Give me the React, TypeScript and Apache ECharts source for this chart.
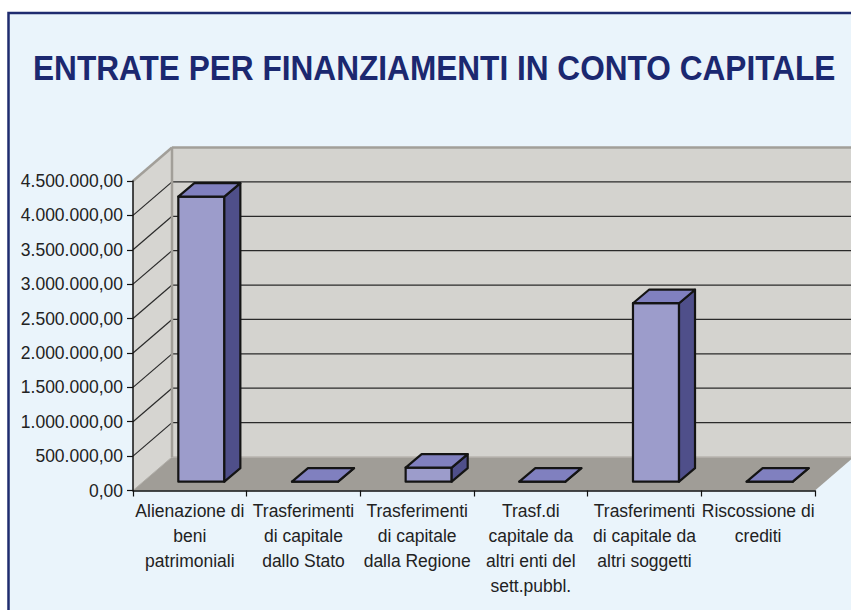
import React, { useEffect, useRef } from "react";
import * as echarts from "echarts";

const categories: string[] = [
  "Alienazione di\nbeni\npatrimoniali",
  "Trasferimenti\ndi capitale\ndallo Stato",
  "Trasferimenti\ndi capitale\ndalla Regione",
  "Trasf.di\ncapitale da\naltri enti del\nsett.pubbl.",
  "Trasferimenti\ndi capitale da\naltri soggetti",
  "Riscossione di\ncrediti",
];
const values: number[] = [4145000, 0, 205000, 0, 2595000, 0];
const Y_MIN = 0;
const Y_MAX = 4500000;
const Y_INTERVAL = 500000;
const TITLE = "ENTRATE PER FINANZIAMENTI IN CONTO CAPITALE";

// 3D geometry (pixels)
const DX = 39;
const DY = -33.5;
const FX = 11.5;
const FY = -8.8;
const BX = 16;
const BY = -13.5;
const FONT = "'Liberation Sans', Arial, Helvetica, sans-serif";

const fmt = (v: number) =>
  Math.round(v).toString().replace(/\B(?=(\d{3})+(?!\d))/g, ".") + ",00";

export default function App() {
  const ref = useRef<HTMLDivElement>(null);
  useEffect(() => {
    if (!ref.current) return;
    const chart = echarts.init(ref.current, undefined, { renderer: "svg" });
    const nCat = categories.length;
    const option: any = {
      animation: false,
      backgroundColor: "#ffffff",
      graphic: [
        {
          type: "rect",
          z: -10,
          shape: { x: 8.5, y: 13, width: 900, height: 700 },
          style: { fill: "#EAF4FB", stroke: "#1F2C6F", lineWidth: 2.5 },
        },
        {
          type: "text",
          z: 10,
          x: 33,
          y: 68,
          scaleX: 1.02,
          scaleY: 1.12,
          style: {
            text: TITLE,
            font: "bold 31px " + FONT,
            fill: "#1B2870",
            textAlign: "left",
            textVerticalAlign: "middle",
          },
        },
      ],
      grid: { left: 133, right: 36, top: 181, bottom: 119.5, containLabel: false },
      xAxis: [
        {
          type: "category",
          data: categories,
          z: 5,
          axisLine: { show: true, lineStyle: { color: "#111", width: 1.5 } },
          axisTick: { show: true, length: 6, interval: 0, lineStyle: { color: "#111", width: 1.2 } },
          axisLabel: {
            interval: 0,
            margin: 8,
            fontFamily: FONT,
            fontSize: 17.5,
            lineHeight: 25,
            color: "#222",
            align: "center",
          },
          splitLine: { show: false },
        },
        { type: "value", min: 0, max: nCat, show: false },
      ],
      yAxis: {
        type: "value",
        min: Y_MIN,
        max: Y_MAX,
        interval: Y_INTERVAL,
        z: 5,
        axisLine: { show: true, lineStyle: { color: "#111", width: 1.5 } },
        axisTick: { show: true, length: 6, lineStyle: { color: "#111", width: 1.2 } },
        axisLabel: {
          margin: 10,
          fontFamily: FONT,
          fontSize: 17.5,
          color: "#222",
          formatter: fmt,
        },
        splitLine: { show: false },
      },
      series: [
        {
          type: "custom",
          xAxisIndex: 1,
          yAxisIndex: 0,
          z: 1,
          clip: false,
          silent: true,
          data: [[0, 0]],
          renderItem: (params: any, api: any) => {
            const p0 = api.coord([0, Y_MIN]);
            const p1 = api.coord([nCat, Y_MIN]);
            const pt = api.coord([0, Y_MAX]);
            const p1t = api.coord([nCat, Y_MAX]);
            const sh = (p: number[]) => [p[0] + DX, p[1] + DY];
            const children: any[] = [];
            children.push({
              type: "polygon",
              shape: { points: [sh(p0), sh(p1), sh(p1t), sh(pt)] },
              style: { fill: "#D4D3CF" },
            });
            children.push({
              type: "polygon",
              shape: { points: [p0, sh(p0), sh(pt), pt] },
              style: { fill: "#D6D5D1" },
            });
            children.push({
              type: "polygon",
              shape: { points: [p0, p1, sh(p1), sh(p0)] },
              style: { fill: "#A09D97" },
            });
            children.push({
              type: "line",
              shape: { x1: p0[0] + DX, y1: p0[1] + DY, x2: p1[0] + DX, y2: p1[1] + DY },
              style: { stroke: "#B8B5AF", lineWidth: 1.5 },
            });
            children.push({
              type: "line",
              shape: { x1: p0[0], y1: p0[1], x2: p0[0] + DX, y2: p0[1] + DY },
              style: { stroke: "#B0ADA7", lineWidth: 1 },
            });
            for (let v = Y_MIN + Y_INTERVAL; v < Y_MAX - 1; v += Y_INTERVAL) {
              const a = api.coord([0, v]);
              const b = api.coord([nCat, v]);
              children.push({
                type: "line",
                shape: { x1: a[0] + DX, y1: a[1] + DY, x2: b[0] + DX, y2: b[1] + DY },
                style: { stroke: "#2a2a2a", lineWidth: 1.2 },
              });
              children.push({
                type: "line",
                shape: { x1: a[0], y1: a[1], x2: a[0] + DX, y2: a[1] + DY },
                style: { stroke: "#2a2a2a", lineWidth: 1.2 },
              });
            }
            children.push({
              type: "line",
              shape: { x1: pt[0] + DX, y1: pt[1] + DY, x2: p1t[0] + DX, y2: p1t[1] + DY },
              style: { stroke: "#A29F99", lineWidth: 2.5 },
            });
            children.push({
              type: "line",
              shape: { x1: pt[0], y1: pt[1], x2: pt[0] + DX, y2: pt[1] + DY },
              style: { stroke: "#A29F99", lineWidth: 2.5 },
            });
            children.push({
              type: "line",
              shape: { x1: pt[0] + DX, y1: pt[1] + DY, x2: p0[0] + DX, y2: p0[1] + DY },
              style: { stroke: "#A29F99", lineWidth: 2.5 },
            });
            return { type: "group", children };
          },
        },
        {
          type: "custom",
          xAxisIndex: 0,
          yAxisIndex: 0,
          z: 2,
          clip: false,
          data: values.map((v, i) => [i, v]),
          renderItem: (params: any, api: any) => {
            const idx = api.value(0);
            const val = api.value(1);
            const c = api.coord([idx, val]);
            const base = api.coord([idx, 0]);
            const w = api.size([1, 0])[0] * 0.405;
            const x0 = c[0] - w / 2 + FX;
            const x1 = x0 + w;
            const yb = base[1] + FY;
            const yt = c[1] + FY;
            const stroke = { stroke: "#141414", lineWidth: 2.2, lineJoin: "round" };
            return {
              type: "group",
              children: [
                {
                  type: "polygon",
                  shape: { points: [[x0, yt], [x1, yt], [x1, yb], [x0, yb]] },
                  style: { fill: "#9C9CCB", ...stroke },
                },
                {
                  type: "polygon",
                  shape: { points: [[x1, yt], [x1 + BX, yt + BY], [x1 + BX, yb + BY], [x1, yb]] },
                  style: { fill: "#4F4F8A", ...stroke },
                },
                {
                  type: "polygon",
                  shape: { points: [[x0, yt], [x0 + BX, yt + BY], [x1 + BX, yt + BY], [x1, yt]] },
                  style: { fill: "#8080BF", ...stroke },
                },
              ],
            };
          },
        },
      ],
    };
    chart.setOption(option);
    return () => chart.dispose();
  }, []);
  return (
    <div
      ref={ref}
      style={{ position: "absolute", left: 0, top: 0, width: 851, height: 610 }}
    />
  );
}
